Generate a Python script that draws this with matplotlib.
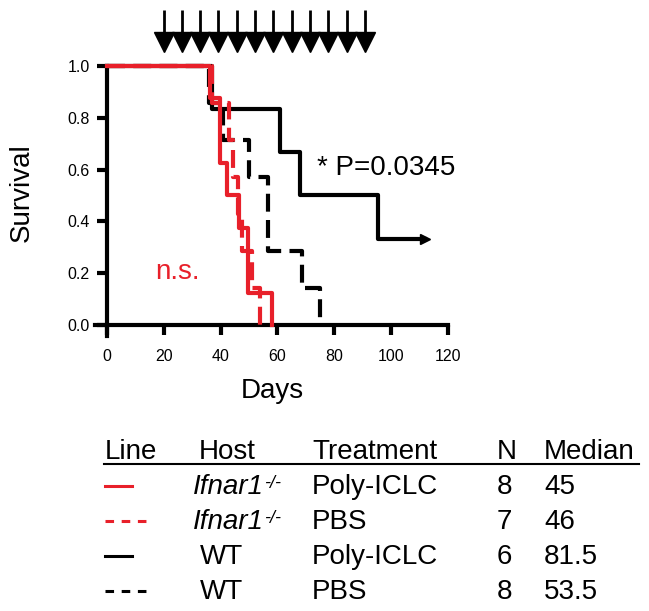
import matplotlib
matplotlib.use('Agg')
import matplotlib.pyplot as plt
import numpy as np

plt.rcParams['font.family'] = ['Liberation Sans', 'DejaVu Sans']

RED = '#e8202a'

# Kaplan-Meier step curves (day, survival fraction)
ko_poly_days = [0, 36.2, 39.8, 42.2, 46.5, 49.6, 58]
ko_poly_surv = [1.0, 0.875, 0.625, 0.5, 0.375, 0.125, 0.0]

ko_pbs_days = [0, 37, 43, 44.3, 46, 47.5, 51, 54]
ko_pbs_surv = [1.0, 0.857, 0.714, 0.571, 0.429, 0.286, 0.143, 0.0]

wt_poly_days = [0, 36.8, 61, 68, 95.5, 112]
wt_poly_surv = [1.0, 0.833, 0.667, 0.5, 0.333, 0.333]

wt_pbs_days = [0, 35.8, 40.8, 50, 56.6, 68.6, 75]
wt_pbs_surv = [1.0, 0.857, 0.714, 0.571, 0.286, 0.143, 0.0]

# treatment days (arrows on top)
injection_days = [20, 26.4, 32.7, 39.2, 45.6, 52, 58.5, 65, 71.4, 77.9, 84.3, 90.8]

# summary table
col_names = ['Line', 'Host', 'Treatment', 'N', 'Median']
hosts = ['Ifnar1', 'Ifnar1', 'WT', 'WT']
host_sup = ['-/-', '-/-', '', '']
treatments = ['Poly-ICLC', 'PBS', 'Poly-ICLC', 'PBS']
n_mice = ['8', '7', '6', '8']
medians = ['45', '46', '81.5', '53.5']
line_colors = [RED, RED, 'black', 'black']
line_dashed = [False, True, False, True]

W, H = 649, 611
fig = plt.figure(figsize=(W / 100, H / 100), dpi=100)


def fx(px):
    return px / W


def fy(py):
    return 1 - py / H


ax = fig.add_axes([fx(95), fy(336), fx(448) - fx(95), fy(66) - fy(336)])
ax.set_xlim(-4.22, 120)
ax.set_ylim(-0.0425, 1.0)
ax.patch.set_visible(False)

lw = 3.0
dash = (0, (4.3, 2.0))
ax.step(ko_poly_days, ko_poly_surv, where='post', color=RED, lw=lw, clip_on=False, zorder=3)
ax.step(ko_pbs_days, ko_pbs_surv, where='post', color=RED, lw=lw, ls=dash, clip_on=False, zorder=3)
ax.step(wt_poly_days, wt_poly_surv, where='post', color='black', lw=lw, clip_on=False, zorder=2)
ax.step(wt_pbs_days, wt_pbs_surv, where='post', color='black', lw=lw, ls=dash, clip_on=False, zorder=2)
# censored tail arrow
ax.plot(wt_poly_days[-1], wt_poly_surv[-1], '>', color='black', ms=7, clip_on=False)

# injection arrows
ax.vlines(injection_days, 1.10, 1.216, color='black', lw=2.0, clip_on=False)
ax.plot(injection_days, [1.091] * len(injection_days), 'v', color='black', ms=13.7,
        mec='black', clip_on=False)

for s in ['top', 'right']:
    ax.spines[s].set_visible(False)
ax.spines['left'].set_position(('data', 0))
ax.spines['bottom'].set_position(('data', 0))
for s in ['left', 'bottom']:
    ax.spines[s].set_linewidth(3.0)
ax.set_xticks(np.arange(0, 121, 20))
ax.set_yticks(np.arange(0, 1.01, 0.2))
ax.set_yticklabels(['%.1f' % v for v in np.arange(0, 1.01, 0.2)])
ax.tick_params(axis='x', direction='out', length=7, width=3, labelsize=11.5, pad=10.5)
ax.tick_params(axis='y', direction='out', length=7, width=3, labelsize=11.5, pad=5.5)

ax.text(73.9, 0.579, '* P=0.0345', fontsize=20, ha='left', va='baseline')
ax.text(17, 0.1776, 'n.s.', fontsize=20, color=RED, ha='left', va='baseline')

fig.text(fx(22), fy(193), 'Survival', fontsize=20, rotation=90, ha='center', va='center')
fig.text(fx(272), fy(398), 'Days', fontsize=20, ha='center', va='baseline')

# table drawn on a pixel-space overlay
tax = fig.add_axes([0, 0, 1, 1])
tax.set_xlim(0, W)
tax.set_ylim(H, 0)
tax.axis('off')

col_x = [105, 199, 312, 497, 544]
header_base = 459
row_step = 35
tsize = 20

for name, x in zip(col_names, col_x):
    tax.text(x, header_base, name, fontsize=tsize, ha='left', va='baseline')
tax.plot([104, 639], [463.5, 463.5], color='black', lw=1.5)

for i in range(4):
    yb = header_base + row_step * (i + 1)
    yl = yb - 8
    if line_dashed[i]:
        tax.plot([105, 148], [yl, yl], color=line_colors[i], lw=2.2, ls=(0, (2.8, 2.5)))
    else:
        tax.plot([105, 132], [yl, yl], color=line_colors[i], lw=2.2)
    if host_sup[i]:
        t = tax.text(col_x[1] - 6, yb, hosts[i], fontsize=tsize, style='italic',
                     ha='left', va='baseline')
        tax.annotate(host_sup[i], xy=(1.0, 0.98), xycoords=t, xytext=(0.3, 0),
                     textcoords='offset points', fontsize=13, style='italic',
                     ha='left', va='top')
    else:
        tax.text(col_x[1] + 1, yb, hosts[i], fontsize=tsize, ha='left', va='baseline')
    tax.text(col_x[2], yb, treatments[i], fontsize=tsize, ha='left', va='baseline')
    tax.text(col_x[3], yb, n_mice[i], fontsize=tsize, ha='left', va='baseline')
    tax.text(col_x[4], yb, medians[i], fontsize=tsize, ha='left', va='baseline')

fig.savefig('out.png', dpi=100)
